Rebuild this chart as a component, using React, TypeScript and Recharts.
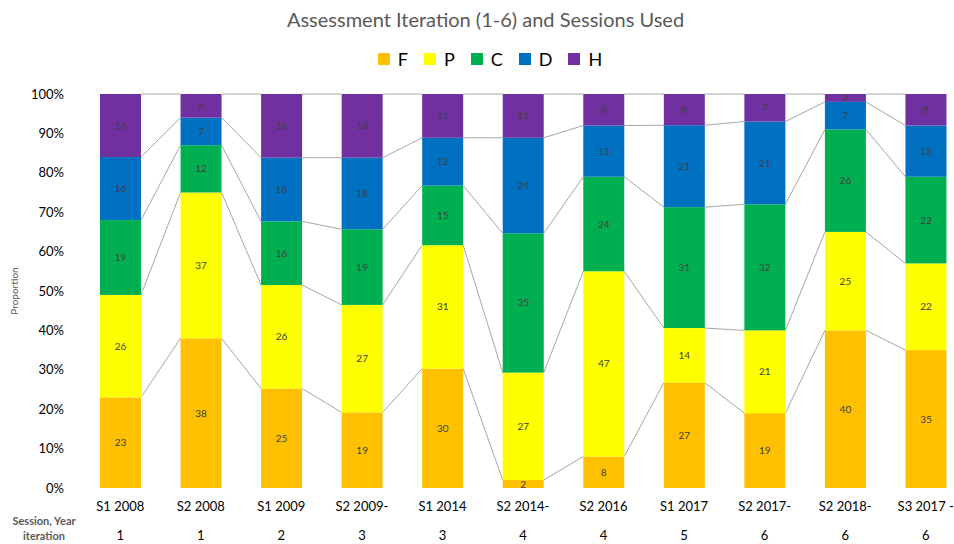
import React from 'react';
import { BarChart, Bar, XAxis, YAxis, LabelList } from 'recharts';

// categories and the second row of the category axis
const sessions = [
  'S1 2008', 'S2 2008', 'S1 2009', 'S2 2009-', 'S1 2014', 'S2 2014-',
  'S2 2016', 'S1 2017', 'S2 2017-', 'S2 2018-', 'S3 2017 -',
];
const iterations = [1, 1, 2, 3, 3, 4, 4, 5, 6, 6, 6];

// grade counts per session (percent of class)
const fValues = [23, 38, 25, 19, 30, 2, 8, 27, 19, 40, 35];
const pValues = [26, 37, 26, 27, 31, 27, 47, 14, 21, 25, 22];
const cValues = [19, 12, 16, 19, 15, 35, 24, 31, 32, 26, 22];
const dValues = [16, 7, 16, 18, 12, 24, 13, 21, 21, 7, 13];
const hValues = [16, 6, 16, 16, 11, 11, 8, 8, 7, 2, 8];

const seriesNames = ['F', 'P', 'C', 'D', 'H'];
const seriesColors = ['#FFC000', '#FFFF00', '#00B050', '#0070C0', '#7030A0'];
const seriesValues = [fValues, pValues, cValues, dValues, hValues];
const yTicks = [0, 0.1, 0.2, 0.3, 0.4, 0.5, 0.6, 0.7, 0.8, 0.9, 1];

const data = sessions.map((session, i) => {
  const row: Record<string, string | number> = { session };
  seriesNames.forEach((name, k) => {
    row[name] = seriesValues[k][i];
  });
  return row;
});

const FONT = 'Lato, "Open Sans", sans-serif';
const CHART_W = 980;
const CHART_H = 544;
const AXIS_W = 80;
const MARGIN_R = 14;
const BAR_W = 41;
const STEP = (CHART_W - AXIS_W - MARGIN_R) / sessions.length;

// cumulative share of series 0..k at category i
const cumShare = (k: number, i: number) => {
  let total = 0;
  let upTo = 0;
  seriesValues.forEach((vals, s) => {
    total += vals[i];
    if (s <= k) upTo += vals[i];
  });
  return upTo / total;
};

// bar segment plus the series line to the next stack
const makeShape = (k: number) => (props: any) => {
  const { x, y, width, height, index, fill } = props;
  const top = cumShare(k, index);
  const bottom = k === 0 ? 0 : cumShare(k - 1, index);
  let line = null;
  if (index < sessions.length - 1 && top - bottom > 0) {
    const pxPerUnit = height / (top - bottom);
    const nextTop = cumShare(k, index + 1);
    const yNext = y - (nextTop - top) * pxPerUnit;
    line = (
      <line
        x1={x + width}
        y1={y}
        x2={x + STEP}
        y2={yNext}
        stroke="#A6A6A6"
        strokeWidth={1}
      />
    );
  }
  return (
    <g>
      <rect x={x} y={y} width={width} height={height} fill={fill} />
      {line}
    </g>
  );
};

const SessionTick = (props: any) => {
  const { x, y, payload, index } = props;
  return (
    <g fontFamily={FONT}>
      <text x={x} y={y + 15} textAnchor="middle" fontSize={13} fill="#000">
        {payload.value}
      </text>
      <text x={x} y={y + 44} textAnchor="middle" fontSize={13} fill="#000">
        {iterations[index]}
      </text>
      {index === 0 && (
        <g fontSize={11} fontWeight="bold" fill="#595959">
          <text x={44} y={y + 29} textAnchor="middle">Session, Year</text>
          <text x={44} y={y + 44} textAnchor="middle">iteration</text>
        </g>
      )}
    </g>
  );
};

const App: React.FC = () => {
  return (
    <div
      style={{
        position: 'absolute',
        left: 0,
        top: 0,
        width: 954,
        height: 544,
        overflow: 'hidden',
        background: '#fff',
        fontFamily: FONT,
      }}
    >
      <div
        style={{
          position: 'absolute',
          left: 0,
          top: 7,
          width: 971,
          textAlign: 'center',
          fontSize: 20,
          color: '#595959',
        }}
      >
        Assessment Iteration (1-6) and Sessions Used
      </div>
      <div
        style={{
          position: 'absolute',
          left: 0,
          top: 48,
          width: 980,
          display: 'flex',
          justifyContent: 'center',
          alignItems: 'center',
          fontSize: 18,
          color: '#000',
        }}
      >
        {seriesNames.map((name, k) => (
          <div
            key={name}
            style={{
              display: 'flex',
              alignItems: 'center',
              marginRight: k < seriesNames.length - 1 ? 16 : 0,
            }}
          >
            <span
              style={{
                display: 'inline-block',
                width: 12,
                height: 12,
                background: seriesColors[k],
                marginRight: 8,
              }}
            />
            {name}
          </div>
        ))}
      </div>
      <BarChart
        width={CHART_W}
        height={CHART_H}
        data={data}
        stackOffset="expand"
        margin={{ top: 94, right: MARGIN_R, left: 0, bottom: 0 }}
        style={{ position: 'absolute', left: 0, top: 0 }}
      >
        <XAxis
          dataKey="session"
          height={56}
          axisLine={false}
          tickLine={false}
          interval={0}
          tick={<SessionTick />}
        />
        <YAxis
          width={AXIS_W}
          ticks={yTicks}
          domain={[0, 1]}
          axisLine={false}
          tickLine={false}
          tickMargin={10}
          tickFormatter={(v: number) => `${Math.round(v * 100)}%`}
          tick={{ fontSize: 13, fill: '#000', fontFamily: FONT }}
          label={{
            value: 'Proportion',
            angle: -90,
            position: 'insideLeft',
            offset: 14,
            style: { textAnchor: 'middle', fontSize: 10, fill: '#595959', fontFamily: FONT },
          }}
        />
        {seriesNames.map((name, k) => (
          <Bar
            key={name}
            dataKey={name}
            stackId="a"
            fill={seriesColors[k]}
            barSize={BAR_W}
            shape={makeShape(k)}
            isAnimationActive={false}
          >
            <LabelList
              dataKey={name}
              position="center"
              fontSize={10}
              fill="#404040"
              fontFamily={FONT}
            />
          </Bar>
        ))}
      </BarChart>
    </div>
  );
};

export default App;
